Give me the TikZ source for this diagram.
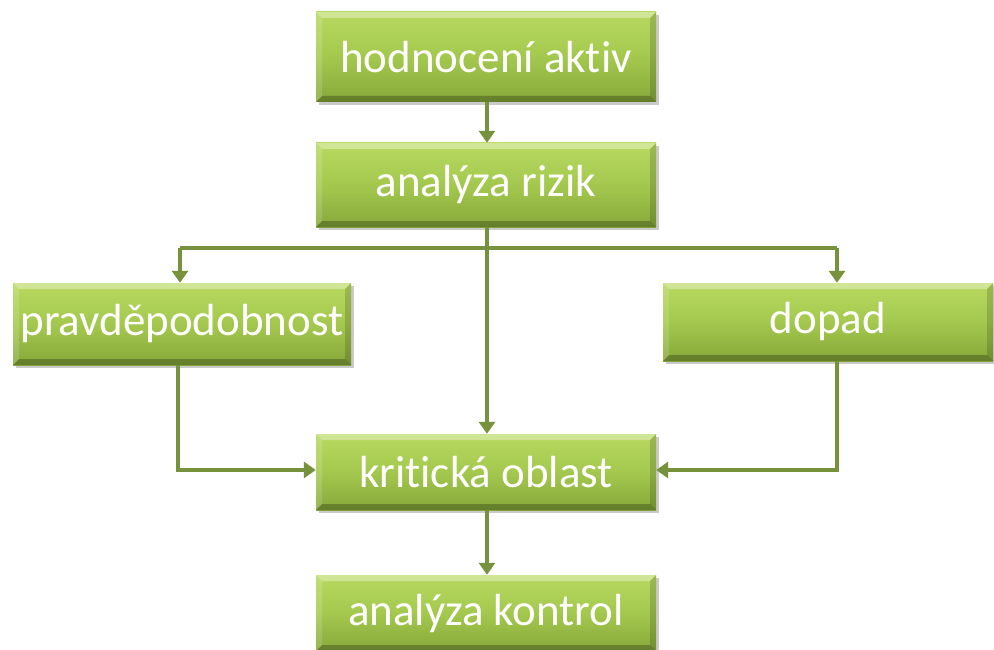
\documentclass[tikz,border=0pt]{standalone}
\usepackage{fontspec}
\setmainfont{Carlito}[RawFeature={-liga;-clig;-calt;-dlig}]
\usetikzlibrary{arrows.meta,shadows}
\definecolor{boxtop}{HTML}{B8D95F}
\definecolor{boxmid}{HTML}{A4C84E}
\definecolor{boxbot}{HTML}{86A83A}
\definecolor{linkcol}{HTML}{76923C}
\tikzset{
  stage/.style={rectangle, inner sep=0pt, text=white,
    top color=boxtop, bottom color=boxbot, middle color=boxmid,
    font=\fontsize{45}{52}\selectfont,
    drop shadow={shadow xshift=3pt, shadow yshift=-3pt, opacity=0.35, fill=black!60},
    path picture={
      \coordinate (nw) at (path picture bounding box.north west);
      \coordinate (ne) at (path picture bounding box.north east);
      \coordinate (sw) at (path picture bounding box.south west);
      \coordinate (se) at (path picture bounding box.south east);
      % bevelled edges
      \fill[white,opacity=0.35] (nw) -- (ne) -- ([shift={(-6pt,-6pt)}]ne) -- ([shift={(6pt,-6pt)}]nw) -- cycle;
      \fill[white,opacity=0.15] (nw) -- ([shift={(6pt,-6pt)}]nw) -- ([shift={(6pt,6pt)}]sw) -- (sw) -- cycle;
      \fill[black,opacity=0.25] (sw) -- (se) -- ([shift={(-6pt,6pt)}]se) -- ([shift={(6pt,6pt)}]sw) -- cycle;
      \fill[black,opacity=0.15] (ne) -- (se) -- ([shift={(-6pt,6pt)}]se) -- ([shift={(-6pt,-6pt)}]ne) -- cycle;
    }},
  link/.style={draw=linkcol, line width=4.5pt,
    -{Triangle[width=16pt,length=12pt]}},
  plain/.style={draw=linkcol, line width=4.5pt}
}
\begin{document}
\begin{tikzpicture}[x=1pt,y=-1pt]
\useasboundingbox (0,0) rectangle (994,650);
\node[stage, minimum width=340pt, minimum height=90pt] (hod) at (486,57) {hodnocení\ aktiv};
\node[stage, minimum width=340pt, minimum height=84pt] (riz) at (486,185) {analýza rizik};
\node[stage, minimum width=338pt, minimum height=82pt] (prav) at (182,324) {pravděpodobnost};
\node[stage, minimum width=330pt, minimum height=78pt] (dop) at (828,322) {dopad};
\node[stage, minimum width=340pt, minimum height=76pt] (krit) at (486,472) {kritická oblast};
\node[stage, minimum width=340pt, minimum height=76pt] (kon) at (486,613) {analýza kontrol};

\coordinate (br) at (487,248);
\coordinate (bl) at (180,248);
\coordinate (brr) at (837,248);
\coordinate (pl) at (178,470);
\coordinate (dl) at (837,470);

\draw[link] (hod.south -| br) -- (riz.north -| br);
\draw[link] (riz.south -| br) -- (krit.north -| br);
\draw[plain] (bl) -- (brr);
\draw[link] (bl) -- (bl |- prav.north);
\draw[link] (brr) -- (brr |- dop.north);
\draw[link] (prav.south -| pl) -- (pl) -- (krit.west |- pl);
\draw[link] (dop.south -| dl) -- (dl) -- (krit.east |- dl);
\draw[link] (krit.south -| br) -- (kon.north -| br);
\end{tikzpicture}
\end{document}
